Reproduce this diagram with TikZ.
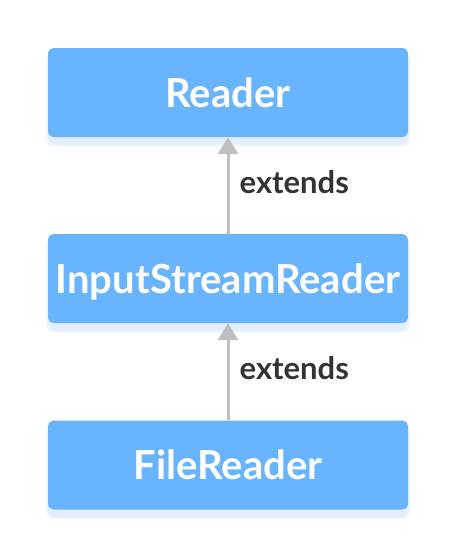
\documentclass[tikz,border=0pt]{standalone}
\usepackage{fontspec}
\setmainfont{Lato}
\usetikzlibrary{arrows.meta}
\definecolor{boxblue}{HTML}{68B4FF}
\definecolor{shadowblue}{HTML}{E3EFFD}
\definecolor{arrowgray}{HTML}{BFBFBF}
\definecolor{labelgray}{HTML}{333333}
\tikzset{
  classbox/.style={fill=boxblue, rounded corners=6pt, minimum width=360pt, minimum height=89pt, inner sep=0pt, draw=none},
  boxtext/.style={text=white, font=\fontsize{40}{44}\selectfont\bfseries, anchor=base},
  extarrow/.style={draw=arrowgray, line width=3pt, -{Triangle[width=20pt,length=17pt]}},
  extlabel/.style={text=labelgray, font=\fontsize{31}{35}\selectfont\bfseries, anchor=base west, inner sep=0pt},
}
\begin{document}
\begin{tikzpicture}[x=1pt,y=-1pt]
\useasboundingbox (0,0) rectangle (456,558);
% shadows
\foreach \cy in {92.5,278.5,465}{
  \fill[shadowblue, rounded corners=8pt, opacity=0.6] (46,\cy-40) rectangle (410,\cy+54);
  \fill[shadowblue, rounded corners=8pt] (48,\cy-40) rectangle (408,\cy+52);
}
\node[classbox] (reader) at (228,92.5) {};
\node[classbox] (isr) at (228,278.5) {};
\node[classbox] (file) at (228,465) {};
\node[boxtext] (treader) at (228,107) {Reader};
\node[boxtext] (tisr) at (228,293) {InputStreamReader};
\node[boxtext] (tfile) at (228,479.5) {FileReader};
\draw[extarrow] (isr.north) -- (reader.south);
\draw[extarrow] (file.north) -- (isr.south);
\node[extlabel] (l1) at (239.5,193) {extends};
\node[extlabel] (l2) at (239.5,379) {extends};
\end{tikzpicture}
\end{document}
